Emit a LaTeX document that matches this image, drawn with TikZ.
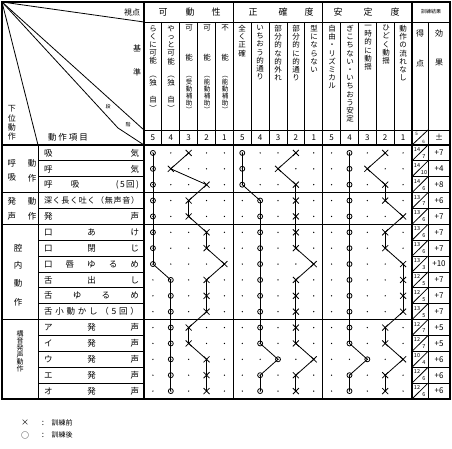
\documentclass[tikz,border=0pt]{standalone}
\usepackage{fontspec}
\setmainfont{Noto Sans CJK JP}
\usetikzlibrary{shapes.misc}
\newcommand\markline[4]{%
  \foreach \lev [count=\r] in {#4} {\node[#3] (#2\r) at ({144+17.867*(#1*5+5-\lev+0.5)},{145+15.875*(\r-0.5)}) {};}
  \foreach \r in {1,...,15} {\pgfmathtruncatemacro\rn{\r+1}\draw[conn] (#2\r.center) -- (#2\rn.center);}
}
\begin{document}
\begin{tikzpicture}[x=1pt,y=-1pt,
  thinl/.style={line width=0.8pt},
  thickl/.style={line width=1.4pt},
  conn/.style={line width=0.8pt},
  omark/.style={circle,draw,inner sep=0pt,minimum size=5pt,line width=0.8pt},
  xmark/.style={cross out,draw,inner sep=0pt,minimum size=5.2pt,line width=0.8pt},
  txt/.style={inner sep=0pt,font=\fontsize{8.5}{10}\selectfont},
  hd/.style={inner sep=0pt,font=\fontsize{9}{10}\selectfont},
  vt/.style={inner sep=0pt,anchor=north,align=center,font=\fontsize{7.5}{8.2}\selectfont},
  vts/.style={inner sep=0pt,anchor=north,align=center,font=\fontsize{6.5}{7}\selectfont},
  num/.style={inner sep=0pt,font=\fontsize{8}{9}\selectfont},
  sc/.style={inner sep=0pt,font=\fontsize{5.5}{6}\selectfont},
  ef/.style={inner sep=0pt,font=\fontsize{8}{9}\selectfont},
  item/.style={inner sep=0pt,font=\fontsize{8.5}{10}\selectfont}]
\useasboundingbox (0,0) rectangle (452,449);
% ---- frame and rules
\draw[thickl] (2,2) rectangle (450,399);
\draw[thinl] (144,22) -- (450,22);
\draw[thinl] (144,130) -- (450,130);
\draw[thickl] (2,145) -- (450,145);
\foreach \xx in {144,233.3,322.7,412} \draw[thickl] (\xx,2) -- (\xx,399);
\foreach \i in {1,2,3,4,6,7,8,9,11,12,13,14} \draw[thinl] ({144+17.867*\i},22) -- ({144+17.867*\i},145);
\draw[thinl] (428,22) -- (428,399);
\draw[thinl] (38,145) -- (38,399);
\foreach \r in {1,...,15} {
  \draw[thinl] (38,{145+15.875*\r}) -- (144,{145+15.875*\r});
  \draw[thinl] (412,{145+15.875*\r}) -- (450,{145+15.875*\r});
}
\foreach \r in {3,5,11} \draw[thickl] (2,{145+15.875*\r}) -- (450,{145+15.875*\r});
% ---- header diagonals
\coordinate (tl) at (2,2);
\coordinate (d1) at (144,22);
\coordinate (d2) at (144,130);
\coordinate (d3a) at (118,128);
\coordinate (d3b) at (144,145);
\coordinate (d4) at (38,145);
\draw[thinl] (tl) -- (d1);
\draw[thinl] (tl) -- (d2);
\draw[thinl] (tl) -- (d3a) -- (d3b);
\draw[thinl] (tl) -- (d4);
% ---- header texts
\node[inner sep=0pt,font=\fontsize{8}{9}\selectfont] (shiten) at (132,12) {視点};
\node[hd] (h1) at (163,12) {可}; \node[hd] (h2) at (190,12) {動}; \node[hd] (h3) at (216,12) {性};
\node[hd] (h4) at (253,12) {正}; \node[hd] (h5) at (283,12) {確}; \node[hd] (h6) at (309,12) {度};
\node[hd] (h7) at (338,12) {安}; \node[hd] (h8) at (368,12) {定}; \node[hd] (h9) at (395,12) {度};
\node[inner sep=0pt,font=\fontsize{5}{6}\selectfont] (kekka) at (431,12) {訓練結果};
\node[inner sep=0pt,font=\fontsize{8}{9}\selectfont] (ki) at (137,48) {基};
\node[inner sep=0pt,font=\fontsize{8}{9}\selectfont] (jun) at (137,72) {準};
\node[inner sep=0pt,font=\fontsize{5}{6}\selectfont] (dan) at (108,107) {段};
\node[inner sep=0pt,font=\fontsize{5}{6}\selectfont] (kai) at (128,125) {階};
\node[inner sep=0pt,align=center,font=\fontsize{8}{9.3}\selectfont] (kai2) at (12,123) {下\\位\\動\\作};
\node[txt] (koumoku) at (68,137) {動\hspace{2pt}作\hspace{2pt}項\hspace{2pt}目};
% column texts
\node[vt] (a5) at (153,25) {ら\\く\\に\\可\\能};
\node[vt] (a5b) at (153,76) {︵\\独\\[9pt]自\\︶};
\node[vt] (a4) at (171,25) {や\\っ\\と\\可\\能};
\node[vt] (a4b) at (171,76) {︵\\独\\[9pt]自\\︶};
\node[vt] (a3) at (189,25) {可\\[21pt]能};
\node[vts] (a3b) at (189,76) {︵\\受\\動\\補\\助\\︶};
\node[vt] (a2) at (207,25) {可\\[21pt]能};
\node[vts] (a2b) at (207,76) {︵\\能\\動\\補\\助\\︶};
\node[vt] (a1) at (225,25) {不\\[21pt]能};
\node[vts] (a1b) at (225,76) {︵\\能\\動\\補\\助\\︶};
\node[vt] (b5) at (242,25) {全\\く\\正\\確};
\node[vt] (b4) at (260,25) {い\\ち\\お\\う\\的\\通\\り};
\node[vt] (b3) at (278,25) {部\\分\\的\\な\\的\\外\\れ};
\node[vt] (b2) at (296,25) {部\\分\\的\\に\\的\\通\\り};
\node[vt] (b1) at (314,25) {型\\に\\な\\ら\\な\\い};
\node[vt] (c5) at (332,25) {自\\由\\・\\リ\\ズ\\ミ\\カ\\ル};
\node[vt] (c4) at (350,25) {ぎ\\こ\\ち\\な\\い\\・\\い\\ち\\お\\う\\安\\定};
\node[vt] (c3) at (368,25) {一\\時\\的\\に\\動\\揺};
\node[vt] (c2) at (386,25) {ひ\\ど\\く\\動\\揺};
\node[vt] (c1) at (403,25) {動\\作\\の\\流\\れ\\な\\し};
\node[num] (toku) at (420,33) {得}; \node[num] (ten) at (420,63) {点};
\node[num] (kou) at (439,33) {効}; \node[num] (ka) at (439,63) {果};
% level numbers
\foreach \g in {0,1,2} \foreach \L in {5,4,3,2,1}
  \node[num] at ({144+17.867*(\g*5+5-\L+0.5)},137.5) {\L};
\draw[thinl] (412,145) -- (428,130);
\node[inner sep=0pt,font=\fontsize{4.5}{5}\selectfont] (hs1) at (416.5,134) {5};
\node[inner sep=0pt,font=\fontsize{4.5}{5}\selectfont] (hs2) at (423.5,141.5) {6};
\node[num] (pm) at (439,137.5) {±};
% ---- row labels
\node[txt] (g1a) at (12,163) {呼}; \node[txt] (g1b) at (32,163) {動};
\node[txt] (g1c) at (12,178) {吸}; \node[txt] (g1d) at (32,178) {作};
\node[txt] (g2a) at (12,201) {発}; \node[txt] (g2b) at (32,201) {動};
\node[txt] (g2c) at (12,216) {声}; \node[txt] (g2d) at (32,216) {作};
\node[txt] (g3a) at (18,248) {腔}; \node[txt] (g3b) at (18,265) {内};
\node[txt] (g3c) at (18,283) {動}; \node[txt] (g3d) at (18,302) {作};
\node[inner sep=0pt,align=center,font=\fontsize{7}{7}\selectfont] (g4) at (20,351) {構\\音\\発\\声\\動\\作};
\foreach \t [count=\r] in {
  吸\hfill 気, 呼\hfill 気, 呼\hfill 吸\hfill\hfill (\,5\,回\,),
  {\fontsize{8}{9}\selectfont 深\hfill く\hfill 長\hfill く\hfill 吐\hfill く\hfill （\hfill 無\hfill 声\hfill 音\hfill ）},
  発\hfill 声, 口\hfill あ\hfill け, 口\hfill 閉\hfill じ,
  口\hfill 唇\hfill ゆ\hfill る\hfill め, 舌\hfill 出\hfill し, 舌\hfill ゆ\hfill る\hfill め,
  舌\hfill 小\hfill 動\hfill か\hfill し\hfill （\hfill 5\hfill 回\hfill ）,
  ア\hfill 発\hfill 声, イ\hfill 発\hfill 声, ウ\hfill 発\hfill 声, エ\hfill 発\hfill 声, オ\hfill 発\hfill 声}
  \node[item] (it\r) at (91.5,{145+15.875*(\r-0.5)}) {\makebox[95pt]{\t}};
% ---- dots
\foreach \i in {0,...,14} \foreach \r in {1,...,16}
  \fill ({144+17.867*(\i+0.5)},{145+15.875*(\r-0.5)}) circle (0.7pt);
% ---- marks and connectors
\markline{0}{oA}{omark}{5,5,5,5,5,5,5,5,4,4,4,4,4,4,4,4}
\markline{0}{xA}{xmark}{3,4,2,3,3,2,2,1,2,2,2,3,3,2,2,2}
\markline{1}{oB}{omark}{5,5,5,4,4,4,4,4,4,4,4,4,4,3,4,4}
\markline{1}{xB}{xmark}{2,3,2,2,2,2,2,1,2,2,2,2,2,1,2,2}
\markline{2}{oC}{omark}{4,4,4,4,4,4,4,4,4,4,4,4,4,3,4,4}
\markline{2}{xC}{xmark}{2,3,2,2,1,2,2,1,1,1,1,2,2,1,2,2}
% ---- scores
\foreach \a/\b/\e [count=\r] in {14/7/+7,14/10/+4,14/6/+8,13/7/+6,13/6/+7,13/6/+7,13/6/+7,13/3/+10,
  12/5/+7,12/5/+7,13/5/+7,12/7/+5,12/7/+5,10/4/+6,12/6/+6,12/6/+6} {
  \draw[thinl] (412,{145+15.875*\r}) -- (428,{145+15.875*(\r-1)});
  \node[sc] at (417,{145+15.875*(\r-1)+4.5}) {\a};
  \node[sc] at (424,{145+15.875*\r-4.5}) {\b};
  \node[ef] at (439,{145+15.875*(\r-0.5)}) {\e};
}
% ---- legend
\node[num] (lx) at (25,423) {×}; \node[num] (lc1) at (43,423) {:};
\node[inner sep=0pt,font=\fontsize{7}{8}\selectfont] (l1) at (62,423) {訓練前};
\node[num] (lo) at (25,435) {○}; \node[num] (lc2) at (43,435) {:};
\node[inner sep=0pt,font=\fontsize{7}{8}\selectfont] (l2) at (62,435) {訓練後};
\end{tikzpicture}
\end{document}
